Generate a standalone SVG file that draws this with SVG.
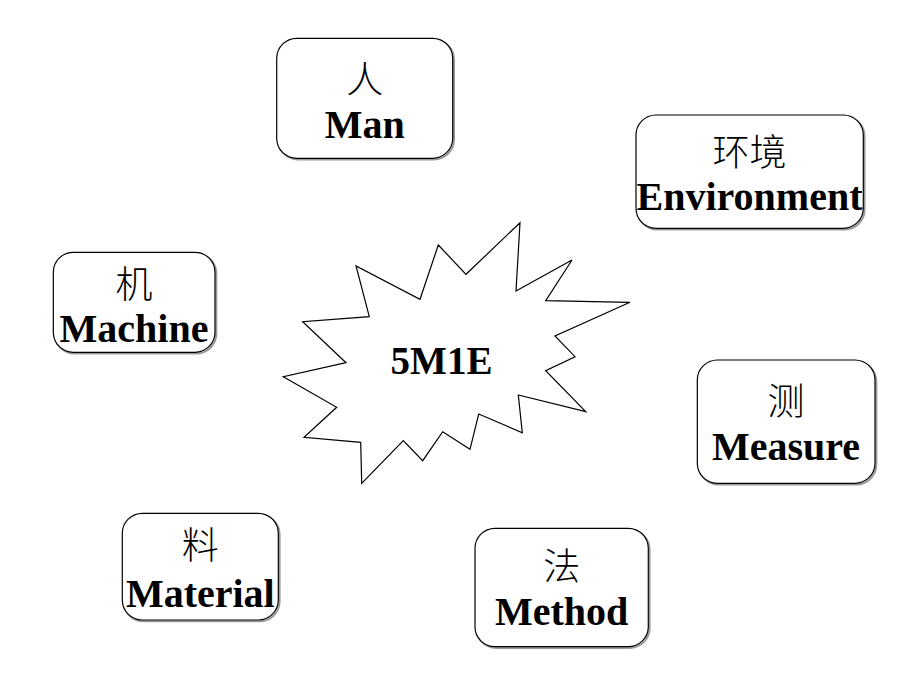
<svg xmlns="http://www.w3.org/2000/svg" width="920" height="690" viewBox="0 0 920 690">
<style>
.box{fill:#fff;stroke:#000;stroke-width:1.2}
.shadow{fill:none;stroke:#999;stroke-width:2}
.cn{font-family:"Noto Sans CJK SC",sans-serif;font-size:37px;font-weight:300;fill:#000;text-anchor:middle}
.en{font-family:"Liberation Serif",serif;font-weight:bold;font-size:40px;fill:#000;text-anchor:middle}
</style>
<rect width="920" height="690" fill="#fff"/>
<g id="center">
<polygon points="520,222.7 516,291 572,260 545.7,300.7 630,302.3 555,336 575,356.7 545.7,370.7 585.7,411.7 518.3,395 522.3,432.7 478.7,414 470,449.3 442.7,431.7 422.7,460.7 403.3,440.7 361.7,483.3 360.7,442.3 304,437.3 336.7,407.3 283.3,376.7 346,362.7 302.7,321.7 369.3,316.7 356,266 420,299.3 438.3,245 466,274.3" fill="#fff" stroke="#000" stroke-width="1.2" stroke-linejoin="miter"/>
<text x="441.5" y="374" font-family="Liberation Serif,serif" font-weight="bold" font-size="39" text-anchor="middle">5M1E</text>
</g>
<g id="man">
<rect class="shadow" x="278" y="39.5" width="176" height="120" rx="20"/>
<rect class="box" x="276.7" y="38.3" width="176" height="120" rx="20"/>
<text class="cn" x="364.7" y="93">人</text>
<text class="en" x="364.7" y="138.3">Man</text>
</g>
<g id="environment">
<rect class="shadow" x="637.3" y="116.3" width="227.3" height="113.3" rx="20"/>
<rect class="box" x="636" y="115" width="227.3" height="113.3" rx="20"/>
<text class="cn" x="749.5" y="166">环境</text>
<text class="en" x="749.5" y="210" font-size="41">Environment</text>
</g>
<g id="machine">
<rect class="shadow" x="54.6" y="253.6" width="161.7" height="100" rx="20"/>
<rect class="box" x="53.3" y="252.3" width="161.7" height="100" rx="20"/>
<text class="cn" x="134" y="298">机</text>
<text class="en" x="134" y="341.7">Machine</text>
</g>
<g id="measure">
<rect class="shadow" x="698.6" y="361.3" width="177.7" height="123.3" rx="20"/>
<rect class="box" x="697.3" y="360" width="177.7" height="123.3" rx="20"/>
<text class="cn" x="786" y="415">测</text>
<text class="en" x="786" y="460">Measure</text>
</g>
<g id="material">
<rect class="shadow" x="123.6" y="514.6" width="156" height="106.7" rx="20"/>
<rect class="box" x="122.3" y="513.3" width="156" height="106.7" rx="20"/>
<text class="cn" x="200.3" y="559">料</text>
<text class="en" x="200.3" y="606.7">Material</text>
</g>
<g id="method">
<rect class="shadow" x="476.3" y="529.6" width="173.3" height="118.4" rx="20"/>
<rect class="box" x="475" y="528.3" width="173.3" height="118.4" rx="20"/>
<text class="cn" x="561.7" y="580">法</text>
<text class="en" x="561.7" y="625">Method</text>
</g>
<g id="connectors"></g>
</svg>
